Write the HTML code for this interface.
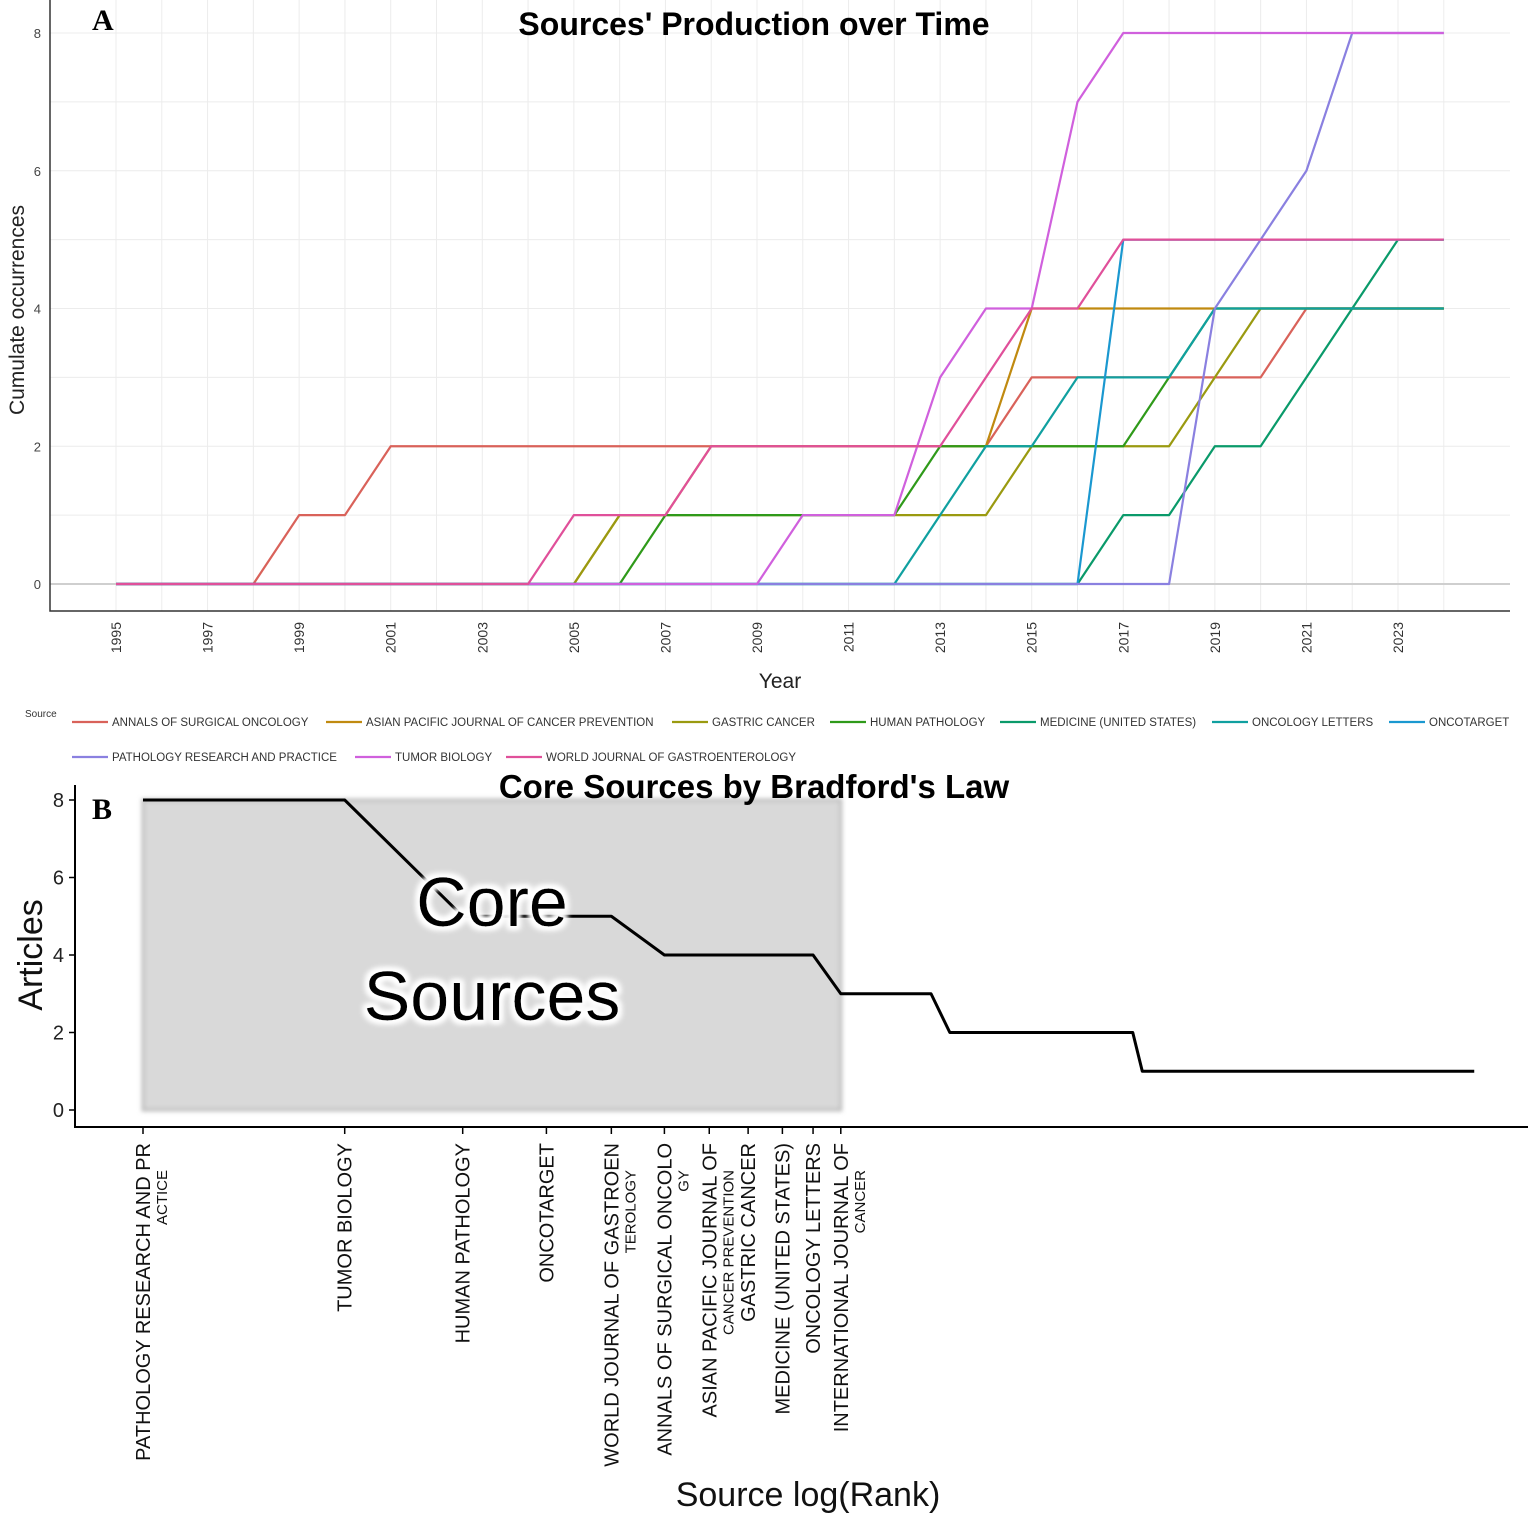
<!DOCTYPE html>
<html><head><meta charset="utf-8"><style>
body{margin:0;background:#fff;}
svg{display:block;font-family:"Liberation Sans",Arial,sans-serif;}
</style></head><body>
<svg id="chart" width="1535" height="1520" viewBox="0 0 1535 1520">
<defs>
<filter id="blur" x="-5%" y="-5%" width="110%" height="110%"><feGaussianBlur stdDeviation="2"/></filter>
<filter id="glow" x="-10%" y="-20%" width="120%" height="140%">
<feMorphology in="SourceAlpha" operator="dilate" radius="3" result="d"/>
<feGaussianBlur in="d" stdDeviation="3" result="b"/>
<feFlood flood-color="#fff"/><feComposite in2="b" operator="in" result="w"/>
<feMerge><feMergeNode in="w"/><feMergeNode in="w"/><feMergeNode in="SourceGraphic"/></feMerge></filter>
</defs>
<g id="panelA"></g>
<g id="panelB"></g>
</svg>
<script>
const years=[1995,1996,1997,1998,1999,2000,2001,2002,2003,2004,2005,2006,2007,2008,2009,2010,2011,2012,2013,2014,2015,2016,2017,2018,2019,2020,2021,2022,2023,2024];
const sourceNames=["ANNALS OF SURGICAL ONCOLOGY","ASIAN PACIFIC JOURNAL OF CANCER PREVENTION","GASTRIC CANCER","HUMAN PATHOLOGY","MEDICINE (UNITED STATES)","ONCOLOGY LETTERS","ONCOTARGET","PATHOLOGY RESEARCH AND PRACTICE","TUMOR BIOLOGY","WORLD JOURNAL OF GASTROENTEROLOGY"];
const sourceColors=["#d9625a","#c08a10","#9a9a10","#2f9a1a","#0a9a6a","#10a0a0","#1a98d0","#8a80e0","#d060dd","#e0509a"];
const annals=[0,0,0,0,1,1,2,2,2,2,2,2,2,2,2,2,2,2,2,2,3,3,3,3,3,3,4,4,4,4];
const asianPacific=[0,0,0,0,0,0,0,0,0,0,0,1,1,2,2,2,2,2,2,2,4,4,4,4,4,4,4,4,4,4];
const gastricCancer=[0,0,0,0,0,0,0,0,0,0,0,1,1,1,1,1,1,1,1,1,2,2,2,2,3,4,4,4,4,4];
const humanPathology=[0,0,0,0,0,0,0,0,0,0,0,0,1,1,1,1,1,1,2,2,2,2,2,3,4,4,4,4,4,4];
const medicine=[0,0,0,0,0,0,0,0,0,0,0,0,0,0,0,0,0,0,0,0,0,0,1,1,2,2,3,4,5,5];
const oncologyLetters=[0,0,0,0,0,0,0,0,0,0,0,0,0,0,0,0,0,0,1,2,2,3,3,3,4,4,4,4,4,4];
const oncotarget=[0,0,0,0,0,0,0,0,0,0,0,0,0,0,0,0,0,0,0,0,0,0,5,5,5,5,5,5,5,5];
const pathologyResearch=[0,0,0,0,0,0,0,0,0,0,0,0,0,0,0,0,0,0,0,0,0,0,0,0,4,5,6,8,8,8];
const tumorBiology=[0,0,0,0,0,0,0,0,0,0,0,0,0,0,0,1,1,1,3,4,4,7,8,8,8,8,8,8,8,8];
const worldJournal=[0,0,0,0,0,0,0,0,0,0,1,1,1,2,2,2,2,2,2,3,4,4,5,5,5,5,5,5,5,5];
const seriesA=[annals,asianPacific,gastricCancer,humanPathology,medicine,oncologyLetters,oncotarget,pathologyResearch,tumorBiology,worldJournal];
const yTicksA=[0,2,4,6,8];
const xTicksA=[1995,1997,1999,2001,2003,2005,2007,2009,2011,2013,2015,2017,2019,2021,2023];

const rankLabels=[["PATHOLOGY RESEARCH AND PR","ACTICE"],["TUMOR BIOLOGY"],["HUMAN PATHOLOGY"],["ONCOTARGET"],["WORLD JOURNAL OF GASTROEN","TEROLOGY"],["ANNALS OF SURGICAL ONCOLO","GY"],["ASIAN PACIFIC JOURNAL OF","CANCER PREVENTION"],["GASTRIC CANCER"],["MEDICINE (UNITED STATES)"],["ONCOLOGY LETTERS"],["INTERNATIONAL JOURNAL OF","CANCER"]];
const stepArticles=[8,5,4,3,2,1];
const stepCounts=[2,3,5,5,15,67];
const coreCount=11;
const yTicksB=[0,2,4,6,8];

const NS="http://www.w3.org/2000/svg";
function mk(parent,tag,attrs,text){const e=document.createElementNS(NS,tag);for(const k in attrs)e.setAttribute(k,attrs[k]);if(text!==undefined)e.textContent=text;parent.appendChild(e);return e;}

// ---------- Panel A ----------
const A=document.getElementById('panelA');
const xA=y=>116+(y-1995)*(1398-116)/28;
const yA=v=>584-v*(584-33)/8;
for(let y=1995;y<=2024;y++){const g=mk(A,'line',{x1:xA(y),x2:xA(y),y1:0,y2:611,stroke:'#ececec','stroke-width':1});

}
for(let v=0;v<=8;v++){const g=mk(A,'line',{x1:50,x2:1510,y1:yA(v),y2:yA(v),stroke:'#ececec','stroke-width':1});

}
const zl=mk(A,'line',{x1:50,x2:1510,y1:yA(0),y2:yA(0),stroke:'#cfcfcf','stroke-width':2});


const axA=mk(A,'path',{d:'M50,0V611H1510',fill:'none',stroke:'#333','stroke-width':1.5});


yTicksA.forEach(v=>{const t=mk(A,'text',{x:41,y:yA(v)+5,'font-size':13,'text-anchor':'end',fill:'#444'},v);

});
xTicksA.forEach(y=>{const t=mk(A,'text',{transform:`translate(${xA(y)+5},622) rotate(-90)`,'font-size':14,'text-anchor':'end',fill:'#333'},y);

});
seriesA.forEach((s,i)=>{const p=mk(A,'polyline',{points:s.map((v,j)=>xA(years[j])+','+yA(v)).join(' '),fill:'none',stroke:sourceColors[i],'stroke-width':2.2,'stroke-linejoin':'round'});

});
let t;
t=mk(A,'text',{x:754,y:35,'font-size':32,'font-weight':'bold','text-anchor':'middle'},"Sources' Production over Time");


t=mk(A,'text',{x:92,y:30,'font-size':30,'font-weight':'bold','font-family':'"Liberation Serif",serif'},"A");


t=mk(A,'text',{x:780,y:688,'font-size':21,'text-anchor':'middle',fill:'#222'},"Year");


t=mk(A,'text',{transform:'translate(24,310) rotate(-90)','font-size':21,'text-anchor':'middle',fill:'#222'},"Cumulate occurrences");


t=mk(A,'text',{x:25,y:717,'font-size':10,fill:'#333'},"Source");


const legX=[72,326,672,830,1000,1212,1389,72,355,506];
const legY=[722,722,722,722,722,722,722,757,757,757];
sourceNames.forEach((n,i)=>{const g=mk(A,'g',{});


mk(g,'line',{x1:legX[i],x2:legX[i]+36,y1:legY[i],y2:legY[i],stroke:sourceColors[i],'stroke-width':2.2});
mk(g,'text',{x:legX[i]+40,y:legY[i]+4,'font-size':11.5,fill:'#333'},n);});

// ---------- Panel B ----------
const B=document.getElementById('panelB');
const xB=r=>143+Math.log(r)*291;
const yB=v=>1110-v*(1110-800)/8;
const rect=mk(B,'rect',{x:xB(1),y:yB(8),width:xB(coreCount)-xB(1),height:yB(0)-yB(8),fill:'#d9d9d9',stroke:'#bbb','stroke-width':3,filter:'url(#blur)'});


const articles=[];stepArticles.forEach((a,i)=>{for(let k=0;k<stepCounts[i];k++)articles.push(a);});
const ln=mk(B,'polyline',{points:articles.map((a,i)=>xB(i+1)+','+yB(a)).join(' '),fill:'none',stroke:'#000','stroke-width':3,'stroke-linejoin':'round'});


const axB=mk(B,'path',{d:'M75,785V1127H1528',fill:'none',stroke:'#000','stroke-width':2});


yTicksB.forEach(v=>{mk(B,'line',{x1:69,x2:75,y1:yB(v),y2:yB(v),stroke:'#000','stroke-width':1.5});
const t=mk(B,'text',{x:64,y:yB(v)+7,'font-size':20,'text-anchor':'end',fill:'#222'},v);

});
rankLabels.forEach((lab,i)=>{const x=xB(i+1);mk(B,'line',{x1:x,x2:x,y1:1127,y2:1134,stroke:'#000','stroke-width':1.5});
const g=mk(B,'g',{});


mk(g,'text',{transform:`translate(${x+7},1143) rotate(-90)`,'font-size':20,'text-anchor':'end',fill:'#111'},lab[0]);
if(lab[1])mk(g,'text',{transform:`translate(${x+24},1170) rotate(-90)`,'font-size':15,'text-anchor':'end',fill:'#111'},lab[1]);});
t=mk(B,'text',{x:754,y:798,'font-size':33,'font-weight':'bold','text-anchor':'middle'},"Core Sources by Bradford's Law");


t=mk(B,'text',{x:92,y:819,'font-size':30,'font-weight':'bold','font-family':'"Liberation Serif",serif'},"B");


t=mk(B,'text',{transform:'translate(42,955) rotate(-90)','font-size':34,'text-anchor':'middle',fill:'#111'},"Articles");


t=mk(B,'text',{x:808,y:1506,'font-size':34,'text-anchor':'middle',fill:'#111'},"Source log(Rank)");


t=mk(B,'text',{x:492,y:926,'font-size':70,'text-anchor':'middle',filter:'url(#glow)'},"Core");


t=mk(B,'text',{x:492,y:1020,'font-size':70,'text-anchor':'middle',filter:'url(#glow)'},"Sources");


</script>
</body></html>
